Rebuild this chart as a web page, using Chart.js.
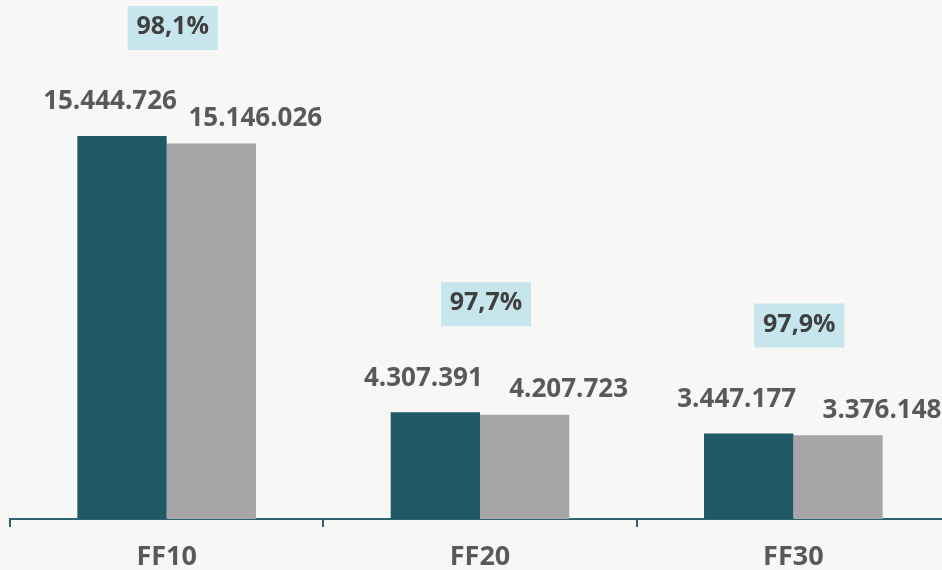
<!DOCTYPE html>
<html>
<head>
<meta charset="utf-8">
<script src="https://cdn.jsdelivr.net/npm/chart.js@4.4.1/dist/chart.umd.min.js"></script>
<style>
  html, body { margin: 0; padding: 0; overflow: hidden; background: #f7f7f5; }
  #wrap { position: relative; width: 960px; height: 570px; }
</style>
</head>
<body>
<div id="wrap"><canvas id="c" width="960" height="570"></canvas></div>
<script>
const categories = ['FF10', 'FF20', 'FF30'];
const seriesA = [15444726, 4307391, 3447177];
const seriesB = [15146026, 4207723, 3376148];
const ratioLabels = ['98,1%', '97,7%', '97,9%'];

const fmt = v => v.toString().replace(/\B(?=(\d{3})+(?!\d))/g, '.');

const FONT = '"Open Sans", Lato, sans-serif';

const labelPlugin = {
  id: 'labels',
  afterDatasetsDraw(chart) {
    const ctx = chart.ctx;
    ctx.save();
    ctx.font = 'bold 26px ' + FONT;
    ctx.fillStyle = '#595959';
    ctx.textAlign = 'center';
    ctx.textBaseline = 'middle';
    const offs = [[-12, -34], [44, -25]];
    chart.data.datasets.forEach((ds, di) => {
      const meta = chart.getDatasetMeta(di);
      meta.data.forEach((bar, i) => {
        ctx.fillText(fmt(ds.data[i]), bar.x + offs[di][0], bar.y + offs[di][1]);
      });
    });
    // ratio boxes
    ctx.font = 'bold 25px ' + FONT;
    const mA = chart.getDatasetMeta(0), mB = chart.getDatasetMeta(1);
    const xs = chart.scales.x;
    ratioLabels.forEach((t, i) => {
      const cx = xs.getPixelForValue(i) + 6;
      const top = Math.min(mA.data[i].y, mB.data[i].y);
      const cy = top - 108;
      ctx.fillStyle = '#c6e5ec';
      ctx.fillRect(cx - 45, cy - 22, 90, 44);
      ctx.fillStyle = '#404040';
      ctx.fillText(t, cx, cy - 1);
    });
    ctx.restore();
  }
};

new Chart(document.getElementById('c'), {
  type: 'bar',
  data: {
    labels: categories,
    datasets: [
      { label: 'A', data: seriesA, backgroundColor: '#215865', borderWidth: 0 },
      { label: 'B', data: seriesB, backgroundColor: '#a6a6a6', borderWidth: 0 }
    ]
  },
  options: {
    responsive: false,
    animation: false,
    layout: { padding: { left: 10, right: 10, top: 0, bottom: 0 } },
    datasets: { bar: { barPercentage: 1.0, categoryPercentage: 0.57 } },
    plugins: { legend: { display: false }, tooltip: { enabled: false } },
    scales: {
      x: {
        afterFit: s => { s.height = 51; },
        border: { display: true, color: '#2d6470', width: 2 },
        grid: { offset: true, drawOnChartArea: false, drawTicks: true, tickLength: 8, color: '#2d6470', lineWidth: 2 },
        ticks: { color: '#595959', font: { family: FONT, size: 27, weight: 'bold' }, padding: 14 }
      },
      y: { display: false, min: 0, max: 20930000 }
    }
  },
  plugins: [labelPlugin]
});
</script>
</body>
</html>
